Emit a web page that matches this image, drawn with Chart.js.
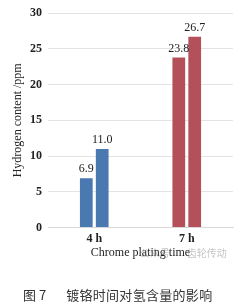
<!DOCTYPE html>
<html>
<head>
<meta charset="utf-8">
<script src="https://cdn.jsdelivr.net/npm/chart.js@4"></script>
<style>
  body { margin: 0; background: #fff; width: 241px; height: 307px; overflow: hidden; }
  #wrap { position: relative; width: 241px; height: 265px; }
  #caption { position: absolute; left: 23px; top: 285px; font: 13px "Noto Sans CJK SC", sans-serif; color: #333; white-space: nowrap; }
  #caption span { margin-left: 20px; letter-spacing: 0.3px; }
  #mark { position: absolute; left: 140px; top: 245px; font: 10px "Noto Sans CJK SC", sans-serif; color: rgba(150,150,150,0.55); white-space: nowrap; }
</style>
</head>
<body>
<div id="wrap"><canvas id="grafico" width="241" height="265"></canvas></div>
<div id="mark">公众号 · &nbsp;齿轮传动</div>
<div id="caption">图 7<span>镀铬时间对氢含量的影响</span></div>
<script>
const categorias = ["4 h", "7 h"];
const primeiraBarra = [6.9, 23.8];
const segundaBarra = [11.0, 26.7];
const coresCategoria = ["#4a78b0", "#b4505a"];
const ticksY = [0, 5, 10, 15, 20, 25, 30];

const serif = "'Liberation Serif', 'Times New Roman', serif";

// rótulos de valor acima das barras
const rotulos = {
    id: "rotulos",
    afterDatasetsDraw(chart) {
        const ctx = chart.ctx;
        ctx.save();
        ctx.font = "12px " + serif;
        ctx.fillStyle = "#222";
        ctx.textAlign = "center";
        ctx.textBaseline = "bottom";
        chart.data.datasets.forEach((ds, i) => {
            chart.getDatasetMeta(i).data.forEach((bar, j) => {
                ctx.fillText(ds.data[j].toFixed(1), bar.x, bar.y - 3);
            });
        });
        ctx.restore();
    }
};

new Chart(document.getElementById("grafico"), {
    type: "bar",
    data: {
        labels: categorias,
        datasets: [
            { data: primeiraBarra, backgroundColor: coresCategoria },
            { data: segundaBarra, backgroundColor: coresCategoria }
        ]
    },
    options: {
        responsive: false,
        animation: false,
        devicePixelRatio: 1,
        categoryPercentage: 0.344,
        barPercentage: 0.8,
        layout: { padding: { top: 12, right: 8, left: 0, bottom: 0 } },
        plugins: { legend: { display: false }, tooltip: { enabled: false } },
        scales: {
            x: {
                grid: { display: false, drawTicks: false },
                border: { color: "#d9d9d9", width: 1 },
                ticks: { color: "#222", padding: 4, font: { family: serif, size: 12, weight: "bold" } },
                title: { display: true, text: "Chrome plating time", color: "#222", padding: { top: 0, bottom: 5 }, font: { family: serif, size: 12 } },
                afterFit: s => { s.height = 37.5; }
            },
            y: {
                min: 0,
                max: 30,
                afterBuildTicks: s => { s.ticks = ticksY.map(v => ({ value: v })); },
                grid: { color: "#e3e3e3", drawTicks: false },
                border: { display: false },
                ticks: { color: "#222", padding: 6, font: { family: serif, size: 12, weight: "bold" } },
                title: { display: true, text: "Hydrogen content /ppm", color: "#222", padding: { top: 11, bottom: 0 }, font: { family: serif, size: 12 } },
                afterFit: s => { s.width = 48; }
            }
        }
    },
    plugins: [rotulos]
});
</script>
</body>
</html>
